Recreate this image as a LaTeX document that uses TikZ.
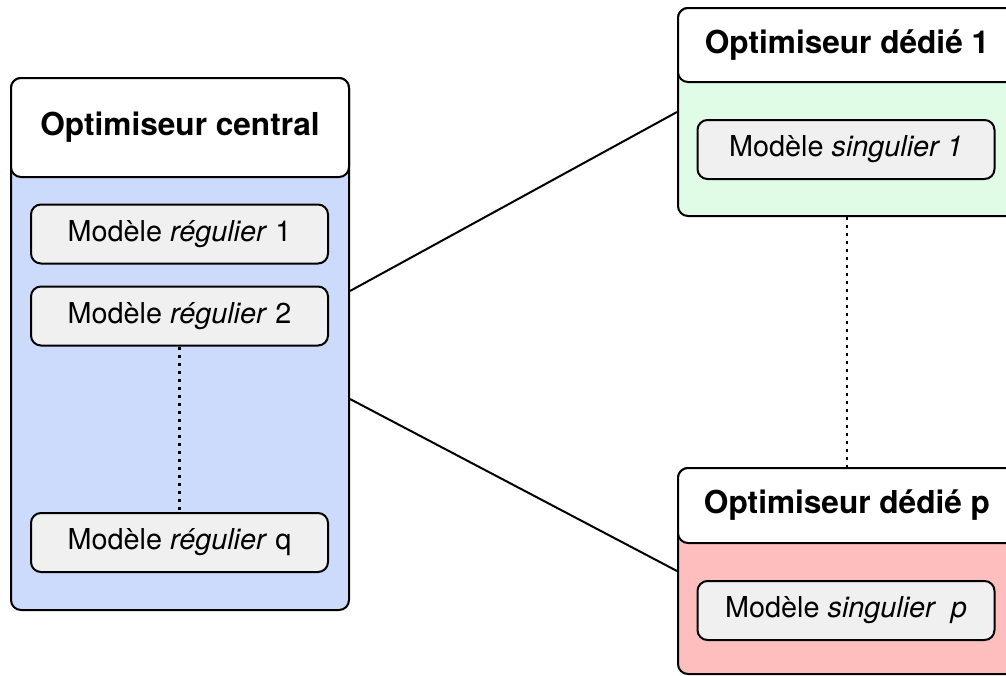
\documentclass[tikz,border=0pt]{standalone}
\usepackage{fontspec}
\setmainfont{TeX Gyre Heros}
\definecolor{bluebody}{RGB}{204,218,252}
\definecolor{greenbody}{RGB}{224,252,230}
\definecolor{redbody}{RGB}{255,190,190}
\definecolor{modelgray}{RGB}{240,240,240}
\begin{document}
\begin{tikzpicture}[x=1pt,y=-1pt,
  container/.style={draw, line width=2pt, rounded corners=10pt, inner sep=0pt, anchor=north west, minimum width=338pt},
  header/.style={container, fill=white, font=\fontsize{31.6}{36}\selectfont\bfseries},
  model/.style={draw, line width=2pt, rounded corners=10pt, fill=modelgray, minimum width=297pt, minimum height=59pt, inner sep=0pt, font=\fontsize{28.8}{32}\selectfont},
  link/.style={line width=2pt},
  dots/.style={line width=2.2pt, dash pattern=on 3pt off 5pt}]
\useasboundingbox (0,0) rectangle (1006,675);

% containers
\node[container, fill=bluebody, minimum height=532pt] (central) at (10,77) {};
\node[header, minimum height=99pt] (centralhead) at (10,77) {Optimiseur central};

\node[container, fill=greenbody, minimum height=208pt] (ded1) at (677,7) {};
\node[header, minimum height=74pt] (ded1head) at (677,7) {Optimiseur dédié 1};

\node[container, fill=redbody, minimum height=206pt] (dedp) at (677,467) {};
\node[header, minimum height=75pt] (dedphead) at (677,467) {Optimiseur dédié p};

% models
\node[model] (reg1) at (179.5,234) {Modèle \textit{régulier} 1};
\node[model] (reg2) at (179.5,316) {Modèle \textit{régulier} 2};
\node[model] (regq) at (179.5,542.5) {Modèle \textit{régulier} q};
\node[model] (sing1) at (846,149.5) {Modèle \textit{singulier 1}};
\node[model] (singp) at (846,610.5) {Modèle \textit{singulier\ \ p}};

% connectors
\draw[link] ([yshift=53pt]central.east) -- (ded1.west);
\draw[link] ([yshift=-55pt]central.east) -- (dedp.west);
\draw[dots] (reg2.south) -- (regq.north);
\draw[dots] (ded1.south) -- (dedp.north);
\end{tikzpicture}
\end{document}
